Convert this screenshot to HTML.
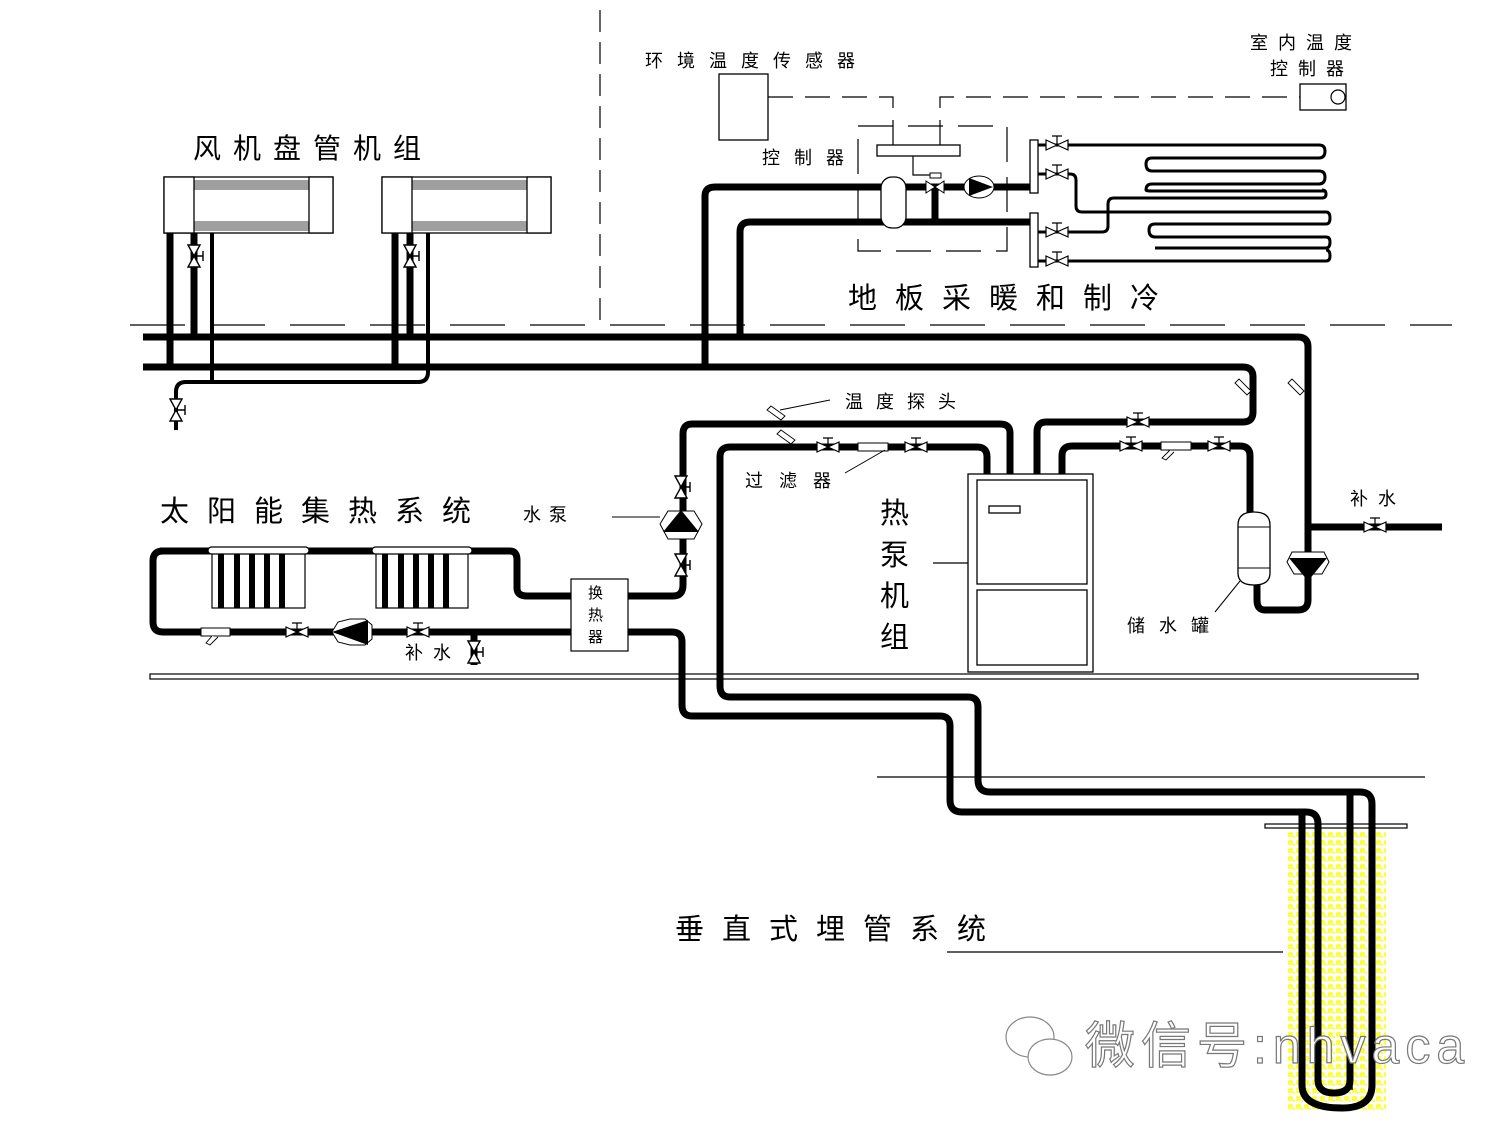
<!DOCTYPE html>
<html><head><meta charset="utf-8"><style>
html,body{margin:0;padding:0;background:#fff}
svg{display:block}
text{font-family:"Liberation Sans","Noto Sans CJK SC","WenQuanYi Zen Hei",sans-serif;fill:#000}
</style></head><body>
<svg width="1500" height="1125" viewBox="0 0 1500 1125" xmlns="http://www.w3.org/2000/svg">
<defs>
<g id="vh"><path d="M-11,-5 L11,5 L11,-5 L-11,5 Z" fill="#fff" stroke="#000" stroke-width="1.2"/><path d="M0,0 V-9 M-5,-9 H5" stroke="#000" stroke-width="1.2"/></g>
<g id="vv"><path d="M-6,-11 L6,11 L-6,11 L6,-11 Z" fill="#fff" stroke="#000" stroke-width="1.4"/><path d="M0,0 H9 M9,-5 V5" stroke="#000" stroke-width="1.4"/></g>
<pattern id="yp" width="8" height="8" patternUnits="userSpaceOnUse"><rect width="8" height="8" fill="#fff"/><path d="M1,1 h3 v3 h-3 z M5,5 h2" stroke="#ff0" stroke-width="1.5" fill="none"/></pattern>
</defs>

<g stroke="#000" stroke-width="1.2" fill="none">
<path d="M600,10 V325" stroke-dasharray="22,10"/>
<path d="M130,325 H1452" stroke-dasharray="55,25"/>
</g>

<rect x="150" y="674" width="1268" height="5" fill="#fff" stroke="#000" stroke-width="1.2"/>
<path d="M877,777 H1425 M947,952 H1283" stroke="#000" stroke-width="1.2"/>

<rect x="1288" y="830" width="98" height="280" fill="url(#yp)"/>
<rect x="1265" y="824" width="142" height="4" fill="#fff" stroke="#000" stroke-width="1.2"/>

<g stroke="#000" stroke-width="7" fill="none" stroke-linejoin="round">
<path d="M143,337 H1298 Q1308,337 1308,347 V600 Q1308,610 1298,610 H1265 Q1257,610 1257,600 V585"/>
<path d="M1308,527 H1442"/>
<path d="M143,367 H1243 Q1253,367 1253,377 V412 Q1253,422 1243,422 H1046 Q1037,422 1037,432 V474"/>
<path d="M1062,474 V456 Q1062,446 1072,446 H1240 Q1250,446 1250,456 V514"/>
<path d="M1010,474 V433 Q1010,424 1000,424 H692 Q683,424 683,434 V585 Q683,596 673,596 H628"/>
<path d="M987,474 V457 Q987,447 977,447 H730 Q720,447 720,457 V686 Q720,697 730,697 H968 Q978,697 978,707 V780 Q978,792 990,792 H1360 Q1372,792 1372,804 V1085 Q1372,1108 1342,1108 Q1302,1108 1302,1085 V815"/>
<path d="M628,632 H672 Q682,632 682,642 V705 Q682,716 692,716 H940 Q950,716 950,726 V800 Q950,812 962,812 H1306 Q1318,812 1318,824 V1080 Q1318,1093 1334,1093 Q1350,1093 1350,1080 V795"/>
<path d="M510,551 Q517,551 517,560 V588 Q517,596 527,596 H571"/>
<path d="M163,551 Q153,551 153,561 V622 Q153,632 163,632 H571"/>
<path d="M160,551 H510"/>
<path d="M705,367 V196 Q705,187 715,187 H1030"/>
<path d="M740,337 V232 Q740,222 750,222 H1030"/>
<path d="M935,187 V222"/>
<path d="M170,233 V367 M194,233 V337 M395,233 V367 M410,233 V337"/>
<path d="M474,632 V665"/>
</g>
<g stroke="#000" stroke-width="4" fill="none">
<path d="M212,233 V382 M428,233 V372 Q428,382 418,382 H186 Q176,382 176,392 V430"/>
</g>
<path d="M1300,812 V1090 M1352,792 V1090" stroke="#000" stroke-width="1.5"/>

<g stroke="#000" stroke-width="1.3" fill="#fff">
<rect x="164" y="177" width="169" height="56"/><rect x="164" y="177" width="30" height="56"/><rect x="309" y="177" width="24" height="56"/>
<rect x="382" y="177" width="169" height="56"/><rect x="382" y="177" width="30" height="56"/><rect x="527" y="177" width="24" height="56"/>
</g>
<g stroke="#000" stroke-width="0.8">
<path d="M194,181H309M194,183H309M194,185H309M194,187H309M194,189H309M194,222H309M194,224H309M194,226H309M194,228H309M194,230H309"/>
<path d="M412,181H527M412,183H527M412,185H527M412,187H527M412,189H527M412,222H527M412,224H527M412,226H527M412,228H527M412,230H527"/>
</g>
<use href="#vv" x="194" y="256"/><use href="#vv" x="410" y="256"/><use href="#vv" x="176" y="410"/>

<rect x="858" y="126" width="149" height="125" fill="none" stroke="#000" stroke-width="1.2" stroke-dasharray="35,15"/>
<rect x="719" y="74" width="49" height="66" fill="#fff" stroke="#000" stroke-width="1.3"/>
<g stroke="#000" stroke-width="1.2" fill="none" stroke-dasharray="25,12">
<path d="M768,97 H893 V145"/><path d="M940,145 V97 H1300"/>
</g>
<rect x="1300" y="84" width="46" height="26" fill="#fff" stroke="#000" stroke-width="1.3"/>
<circle cx="1338" cy="97" r="7" fill="#fff" stroke="#000" stroke-width="1.2"/>
<rect x="877" y="145" width="83" height="11" fill="#fff" stroke="#000" stroke-width="1.3"/>
<path d="M913,156 V175 H930" stroke="#000" stroke-width="1.2" fill="none"/>
<rect x="930" y="173" width="11" height="5" fill="#fff" stroke="#000"/>
<rect x="881" y="177" width="25" height="51" rx="11" fill="#fff" stroke="#000" stroke-width="1.3"/>
<path d="M926,181 L944,193 L944,181 L926,193 Z" fill="#fff" stroke="#000"/>
<ellipse cx="979" cy="187" rx="15" ry="11" fill="#fff" stroke="#000"/>
<path d="M969,178 L993,187 L969,196 Z" fill="#000"/>
<rect x="1030" y="140" width="8" height="53" fill="#fff" stroke="#000" stroke-width="1.3"/>
<rect x="1030" y="213" width="8" height="54" fill="#fff" stroke="#000" stroke-width="1.3"/>
<g stroke="#000" stroke-width="3" fill="none">
<path d="M1038,145 H1319 Q1325,145 1325,151 Q1325,158 1319,158 H1152 Q1146,158 1146,164 Q1146,171 1152,171 H1319 Q1325,171 1325,177 Q1325,184 1319,184 H1152 Q1146,184 1146,190"/>
<path d="M1146,190 Q1146,191 1152,191 H1325"/>
<path d="M1038,174 H1070 Q1076,174 1076,180 V206 Q1076,212 1082,212 H1326 Q1330,212 1330,218 Q1330,224 1326,224 H1155 Q1149,224 1149,230 Q1149,237 1155,237 H1326 Q1330,237 1330,242 Q1330,248 1326,248 H1155"/>
<path d="M1038,232 H1102 Q1108,232 1108,226 V204 Q1108,198 1114,198 H1322 Q1326,198 1326,194 Q1326,190 1322,190"/>
<path d="M1038,261 H1326 Q1330,261 1330,256 Q1330,250 1326,250"/>
</g>
<use href="#vh" x="1057" y="145"/><use href="#vh" x="1057" y="174"/><use href="#vh" x="1057" y="232"/><use href="#vh" x="1057" y="261"/>

<g stroke="#000" stroke-width="1.3" fill="#fff">
<rect x="968" y="474" width="125" height="198"/>
<rect x="977" y="480" width="110" height="104"/>
<rect x="977" y="590" width="110" height="75"/>
<rect x="989" y="506" width="31" height="7"/>
</g>
<path d="M933,563 H968" stroke="#000" stroke-width="1.2"/>

<use href="#vh" x="1138" y="422"/><use href="#vh" x="1131" y="446"/><use href="#vh" x="1219" y="446"/>
<rect x="1161" y="442" width="30" height="8" fill="#fff" stroke="#000"/>
<path d="M1170,450 L1162,458 L1166,460 L1174,452" fill="#fff" stroke="#000" stroke-width="0.9"/>
<use href="#vh" x="828" y="447"/><use href="#vh" x="916" y="447"/>
<rect x="858" y="443" width="30" height="8" fill="#fff" stroke="#000"/>
<path d="M845,473 L885,450" stroke="#000" stroke-width="1"/>
<g fill="#fff" stroke="#000" stroke-width="0.9">
<path d="M767,410 l4,-4 l14,10 l-4,4z"/><path d="M777,434 l4,-4 l14,10 l-4,4z"/>
<path d="M1235,383 l4,-4 l12,12 l-4,4z"/><path d="M1288,383 l4,-4 l12,12 l-4,4z"/>
</g>
<path d="M780,410 L830,400" stroke="#000" stroke-width="1"/>

<path d="M1238,525 Q1238,512 1254,512 Q1270,512 1270,525 V573 Q1270,585 1254,585 Q1238,585 1238,573 Z" fill="#fff" stroke="#000" stroke-width="1.3"/>
<path d="M1238,527 H1270 M1238,568 H1270" stroke="#000"/>
<path d="M1215,612 L1240,581" stroke="#000" stroke-width="1"/>
<path d="M1287,562 L1292,552 H1324 L1329,562 L1322,574 H1294 Z" fill="#fff" stroke="#000"/>
<path d="M1289,558 H1327 L1308,581 Z" fill="#000"/>
<use href="#vh" x="1375" y="527"/>
<path d="M660,524 L668,511 H694 L702,524 L694,539 H668 Z" fill="#fff" stroke="#000"/>
<path d="M663,532 H699 L681,510 Z" fill="#000"/>
<use href="#vv" x="681" y="487"/><use href="#vv" x="681" y="565"/>
<path d="M612,517 H660" stroke="#000"/>

<g stroke="#000" stroke-width="1.2" fill="#fff">
<rect x="212" y="551" width="93" height="57"/><rect x="376" y="551" width="92" height="57"/>
<rect x="208" y="547" width="101" height="7" rx="3.5"/><rect x="372" y="547" width="100" height="7" rx="3.5"/>
</g>
<g fill="#000">
<rect x="218" y="554" width="6" height="54"/><rect x="234" y="554" width="6" height="54"/><rect x="249" y="554" width="6" height="54"/><rect x="264" y="554" width="6" height="54"/><rect x="279" y="554" width="6" height="54"/>
<rect x="382" y="554" width="6" height="54"/><rect x="398" y="554" width="6" height="54"/><rect x="413" y="554" width="6" height="54"/><rect x="428" y="554" width="6" height="54"/><rect x="443" y="554" width="6" height="54"/>
</g>
<rect x="571" y="579" width="57" height="72" fill="#fff" stroke="#000" stroke-width="1.2"/>
<rect x="201" y="628" width="29" height="8" fill="#fff" stroke="#000"/>
<path d="M212,636 L206,643 L210,645 L218,637" fill="#fff" stroke="#000" stroke-width="0.9"/>
<use href="#vh" x="297" y="632"/><use href="#vh" x="418" y="632"/>
<path d="M332,632 L338,622 L350,619 H365 L372,625 L372,639 L365,645 H350 L338,642 Z" fill="#fff" stroke="#000"/>
<path d="M332,632 L368,620 V645 Z" fill="#000"/>
<use href="#vv" x="474" y="652"/>

<text x="193" y="158" font-size="28" letter-spacing="12">风机盘管机组</text>
<text x="645" y="67" font-size="18" letter-spacing="14">环境温度传感器</text>
<text x="1250" y="49" font-size="18" letter-spacing="10">室内温度</text>
<text x="1270" y="75" font-size="18" letter-spacing="10">控制器</text>
<text x="762" y="164" font-size="18" letter-spacing="14">控制器</text>
<text x="848" y="308" font-size="29" letter-spacing="18">地板采暖和制冷</text>
<text x="845" y="408" font-size="18" letter-spacing="13">温度探头</text>
<text x="745" y="487" font-size="18" letter-spacing="16">过滤器</text>
<text x="160" y="521" font-size="29" letter-spacing="18">太阳能集热系统</text>
<text x="523" y="521" font-size="18" letter-spacing="8">水泵</text>
<g font-size="29"><text x="880" y="523">热</text><text x="880" y="565">泵</text><text x="880" y="606">机</text><text x="880" y="647">组</text></g>
<g font-size="15"><text x="588" y="598">换</text><text x="588" y="620">热</text><text x="588" y="642">器</text></g>
<text x="1350" y="505" font-size="18" letter-spacing="10">补水</text>
<text x="405" y="659" font-size="18" letter-spacing="10">补水</text>
<text x="1127" y="632" font-size="18" letter-spacing="14">储水罐</text>
<text x="675" y="939" font-size="29" letter-spacing="18">垂直式埋管系统</text>

<g fill="#fff" stroke="#888" stroke-width="1.2">
<ellipse cx="1030" cy="1037" rx="24" ry="20"/>
<ellipse cx="1050" cy="1057" rx="22" ry="18"/>
</g>
<text x="1085" y="1063" font-size="50" stroke="#777" stroke-width="1.2" letter-spacing="6" style="fill:#fff">微信号:nhvaca</text>
</svg>
</body></html>
